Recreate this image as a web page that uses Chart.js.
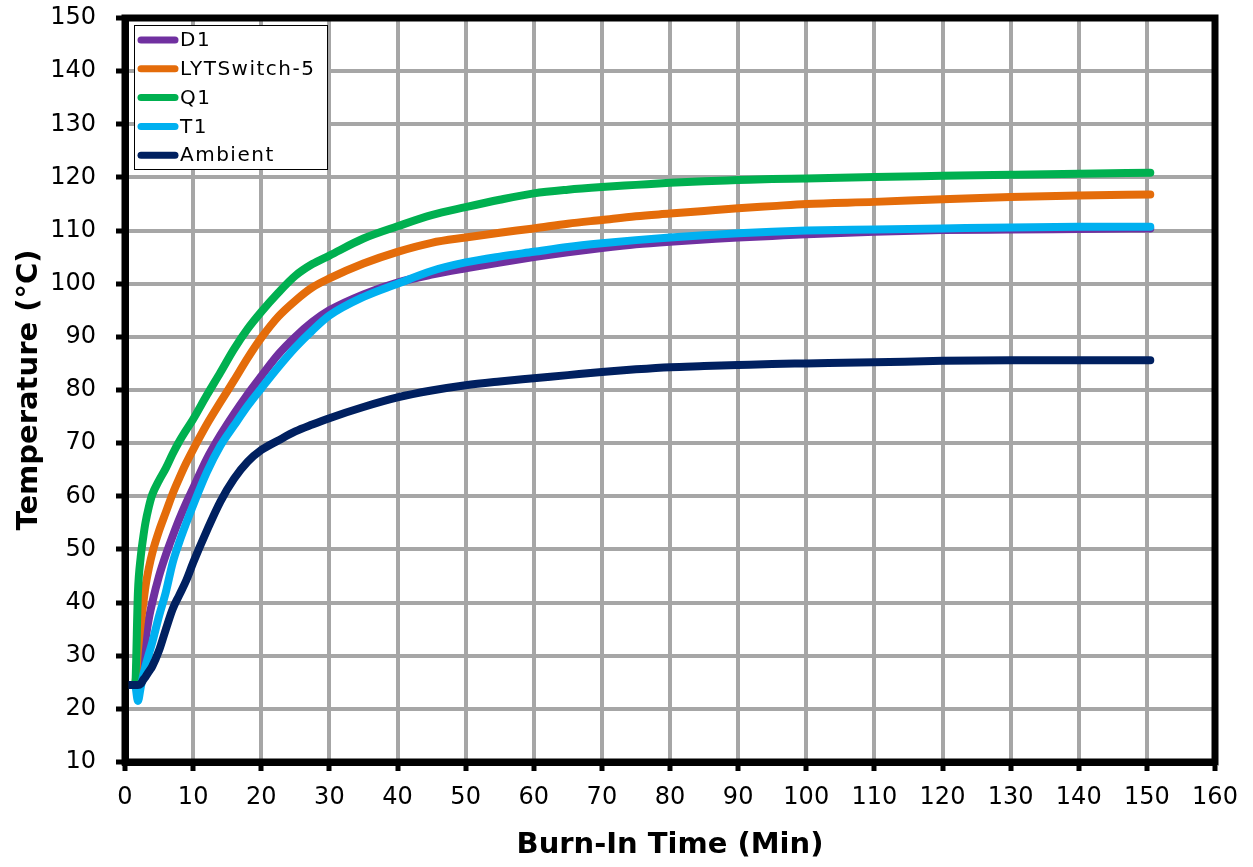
<!DOCTYPE html>
<html><head><meta charset="utf-8">
<script src="https://cdn.jsdelivr.net/npm/chart.js@4.4.1/dist/chart.umd.min.js"></script>
<style>html,body{margin:0;padding:0;background:#fff;}#wrap{width:1253px;height:867px;}</style>
</head><body><div id="wrap"><canvas id="c" width="1253" height="867"></canvas></div>
<script>
// Time axis (minutes)
const minutes = [0, 1, 1.5, 1.9, 2.3, 2.7, 3, 3.5, 4, 5, 6, 7, 8, 9, 10, 12, 14, 16, 18, 20, 22.5, 25, 27.5, 30, 35, 40, 45, 50, 55, 60, 65, 70, 75, 80, 85, 90, 95, 100, 110, 120, 130, 140, 150.5];
// Temperatures (°C)
const d1 = [24.5, 24.5, 24.5, 25, 27, 30, 33, 37, 40, 45, 49, 52.5, 55.8, 58.8, 61.5, 67, 71.5, 75.5, 79.2, 82.6, 86.7, 90, 92.8, 95, 98, 100.2, 101.7, 102.9, 104, 105, 105.9, 106.7, 107.4, 107.9, 108.3, 108.7, 109, 109.3, 109.8, 110.1, 110.2, 110.3, 110.4];
const lytSwitch = [24.5, 24.5, 24.8, 31, 36, 40, 43, 46.5, 49.3, 53.5, 57, 60.5, 63.5, 66.3, 68.8, 73.5, 77.7, 81.8, 86, 89.8, 93.8, 96.8, 99.3, 101, 103.8, 106, 107.7, 108.7, 109.6, 110.4, 111.3, 112, 112.7, 113.2, 113.7, 114.2, 114.6, 115, 115.4, 115.9, 116.3, 116.6, 116.8];
const q1 = [24.5, 24.5, 25, 42, 48.5, 52.5, 55, 58, 60.3, 63, 65.3, 68, 70.4, 72.5, 74.5, 79, 83.3, 87.7, 91.5, 94.7, 98.3, 101.5, 103.7, 105.3, 108.5, 110.8, 112.9, 114.4, 115.8, 117, 117.7, 118.2, 118.6, 119, 119.3, 119.5, 119.7, 119.8, 120.1, 120.3, 120.5, 120.7, 120.9];
const t1 = [24.5, 24.5, 24.3, 21.5, 24, 26.5, 28, 30.3, 32.5, 37.5, 42, 47.5, 51.5, 55, 58.3, 64.5, 69.5, 73.3, 77, 80.3, 84.3, 88, 91.2, 94, 97.5, 100, 102.4, 104, 105.1, 106, 106.9, 107.6, 108.2, 108.7, 109.1, 109.5, 109.8, 110, 110.2, 110.4, 110.6, 110.7, 110.7];
const ambient = [24.5, 24.5, 24.5, 24.5, 24.7, 25.5, 26, 27, 28, 31, 35, 38.8, 41.5, 44.2, 47.5, 53.5, 59, 63.3, 66.5, 68.7, 70.5, 72.2, 73.5, 74.7, 76.8, 78.6, 79.9, 80.9, 81.6, 82.2, 82.8, 83.4, 83.9, 84.3, 84.5, 84.7, 84.9, 85, 85.2, 85.5, 85.6, 85.6, 85.6];

const seriesNames = ['D1', 'LYTSwitch-5', 'Q1', 'T1', 'Ambient'];
const seriesValues = [d1, lytSwitch, q1, t1, ambient];
const seriesColors = ['#7030A0', '#E46C0A', '#00B050', '#00B0F0', '#002060'];

const xMin = 0, xMax = 160, xStep = 10;
const yMin = 10, yMax = 150, yStep = 10;
const xTitle = 'Burn-In Time (Min)';
const yTitle = 'Temperature (°C)';

const datasets = seriesNames.map((name, i) => ({
  label: name,
  data: minutes.map((m, j) => ({x: m, y: seriesValues[i][j]})),
  borderColor: seriesColors[i],
  backgroundColor: seriesColors[i],
  borderWidth: 8,
  pointRadius: 0,
  fill: false,
  cubicInterpolationMode: 'monotone',
  borderCapStyle: 'round',
  borderJoinStyle: 'round',
  order: seriesNames.length - i
}));

const framePlugin = {
  id: 'frameLegend',
  afterDatasetsDraw(chart) {
    const {ctx, chartArea: a} = chart;
    ctx.save();
    const lx = a.left + 9, ly = a.top + 7, lw = 193, lh = 144;
    ctx.fillStyle = '#fff';
    ctx.fillRect(lx, ly, lw, lh);
    ctx.strokeStyle = '#000';
    ctx.lineWidth = 1;
    ctx.strokeRect(lx + 0.5, ly + 0.5, lw, lh);
    chart.data.datasets.forEach((ds, i) => {
      const cy = ly + 15 + i * 28.8;
      ctx.strokeStyle = ds.borderColor;
      ctx.lineWidth = 7;
      ctx.lineCap = 'round';
      ctx.beginPath();
      ctx.moveTo(lx + 7, cy);
      ctx.lineTo(lx + 41, cy);
      ctx.stroke();
      ctx.fillStyle = '#000';
      ctx.font = '20px "DejaVu Sans"';
      ctx.textBaseline = 'middle';
      ctx.textAlign = 'left';
      try { ctx.letterSpacing = '1.5px'; } catch (e) {}
      ctx.fillText(ds.label, lx + 46, cy + 1);
      try { ctx.letterSpacing = '0px'; } catch (e) {}
    });
    ctx.strokeStyle = '#000';
    ctx.lineWidth = 7;
    ctx.lineCap = 'butt';
    ctx.strokeRect(a.left, a.top, a.right - a.left, a.bottom - a.top);
    ctx.restore();
  }
};

const tickFont = {family: 'DejaVu Sans', size: 24};
const titleFont = {family: 'DejaVu Sans', size: 29, weight: 'bold'};

new Chart(document.getElementById('c'), {
  type: 'line',
  data: {datasets},
  options: {
    responsive: false,
    animation: false,
    devicePixelRatio: 1,
    layout: {padding: {top: 18, right: 38, left: 0, bottom: 0}},
    plugins: {legend: {display: false}, tooltip: {enabled: false}},
    scales: {
      x: {
        type: 'linear', min: xMin, max: xMax,
        ticks: {stepSize: xStep, color: '#000', font: tickFont, padding: 12, maxRotation: 0, autoSkip: false},
        grid: {color: '#A6A6A6', lineWidth: 4, tickColor: '#000', tickWidth: 5, tickLength: 9},
        border: {color: '#000', width: 7},
        title: {display: true, text: xTitle, color: '#000', font: titleFont, padding: {top: 0, bottom: 4}},
        afterFit(s) { s.height = 105; s.paddingLeft = 0; s.paddingRight = 0; }
      },
      y: {
        type: 'linear', min: yMin, max: yMax,
        ticks: {stepSize: yStep, color: '#000', font: tickFont, padding: 20, autoSkip: false},
        grid: {color: '#A6A6A6', lineWidth: 4, tickColor: '#000', tickWidth: 5, tickLength: 9},
        border: {color: '#000', width: 7},
        title: {display: true, text: yTitle, color: '#000', font: titleFont, padding: {top: 12, bottom: 0}},
        afterFit(s) { s.width = 125; s.paddingTop = 0; s.paddingBottom = 0; }
      }
    }
  },
  plugins: [framePlugin]
});
</script>
</body></html>
